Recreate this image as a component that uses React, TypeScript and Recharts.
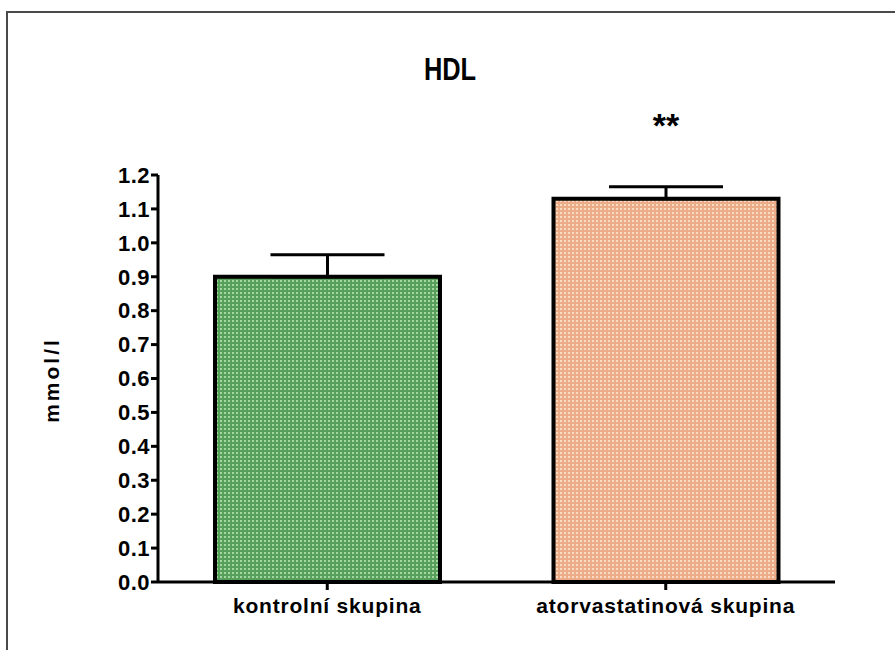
import { BarChart, Bar, XAxis, YAxis, ErrorBar, Cell, LabelList } from "recharts";

// values
const groups = ["kontrolní skupina", "atorvastatinová skupina"];
const means = [0.9, 1.13];
const sem = [0.065, 0.035];
const marks = ["", "**"];
const yTicks = [0, 0.1, 0.2, 0.3, 0.4, 0.5, 0.6, 0.7, 0.8, 0.9, 1.0, 1.1, 1.2];

const data = groups.map((g, i) => ({
  group: g,
  mean: means[i],
  err: [0, sem[i]],
  sig: marks[i],
}));

const patternIds = ["dotsGreen", "dotsPeach"];
const font = "'Liberation Sans', Arial, sans-serif";

export default function App() {
  return (
    <div style={{ position: "absolute", left: 0, top: 0, width: 895, height: 650, background: "#fff", overflow: "hidden", fontFamily: font }}>
      <div style={{ position: "absolute", left: 6, top: 11, width: 950, height: 700, border: "2px solid #4a4a4a" }} />
      <div
        style={{
          position: "absolute",
          left: 350,
          top: 52,
          width: 200,
          textAlign: "center",
          fontSize: 31,
          fontWeight: "bold",
          lineHeight: "36px",
          color: "#000",
          transform: "scaleX(0.82)",
        }}
      >
        HDL
      </div>
      <div
        style={{
          position: "absolute",
          left: 52,
          top: 380,
          transform: "translate(-50%, -50%) rotate(-90deg)",
          fontSize: 21,
          fontWeight: "bold",
          letterSpacing: 3,
          whiteSpace: "nowrap",
        }}
      >
        mmol/l
      </div>
      <BarChart
        width={895}
        height={650}
        data={data}
        margin={{ top: 175, right: 60, bottom: 28, left: 98 }}
        style={{ position: "absolute", left: 0, top: 0 }}
      >
        <defs>
          <pattern id="dotsGreen" width="4" height="4" patternUnits="userSpaceOnUse">
            <rect width="4" height="4" fill="#56a05b" />
            <rect width="2" height="2" fill="#a6d6a2" />
          </pattern>
          <pattern id="dotsPeach" width="4" height="4" patternUnits="userSpaceOnUse">
            <rect width="4" height="4" fill="#ecac88" />
            <rect width="2" height="2" fill="#fadcc6" />
          </pattern>
        </defs>
        <XAxis
          dataKey="group"
          axisLine={{ stroke: "#000", strokeWidth: 3 }}
          tickLine={{ stroke: "#000", strokeWidth: 3 }}
          tickSize={8}
          tickMargin={8}
          height={40}
          tick={{ fill: "#000", fontSize: 21, fontWeight: "bold", fontFamily: font, letterSpacing: 0.8 }}
        />
        <YAxis
          domain={[0, 1.2]}
          ticks={yTicks}
          interval={0}
          width={60}
          tickFormatter={(v: number) => v.toFixed(1)}
          axisLine={{ stroke: "#000", strokeWidth: 3 }}
          tickLine={{ stroke: "#000", strokeWidth: 3 }}
          tickSize={7}
          tickMargin={1}
          tick={{ fill: "#000", fontSize: 22, fontWeight: "bold", fontFamily: font, letterSpacing: 0.5 }}
        />
        <Bar dataKey="mean" barSize={225} stroke="#000" strokeWidth={4} isAnimationActive={false}>
          {data.map((d, i) => (
            <Cell key={d.group} fill={`url(#${patternIds[i]})`} />
          ))}
          <ErrorBar dataKey="err" width={57} stroke="#000" strokeWidth={3} direction="y" />
          <LabelList dataKey="sig" position="top" offset={62} fill="#000" fontSize={34} fontWeight="bold" fontFamily={font} />
        </Bar>
      </BarChart>
    </div>
  );
}
